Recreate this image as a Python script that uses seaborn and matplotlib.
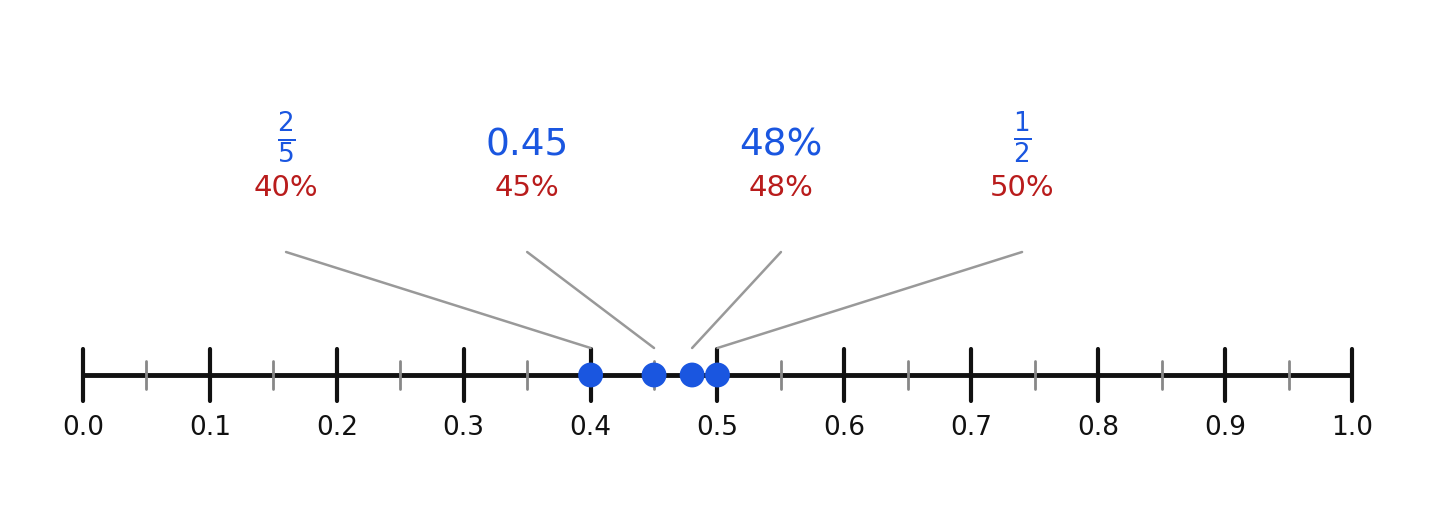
import matplotlib
matplotlib.use("Agg")
import matplotlib.pyplot as plt
import seaborn as sns
import pandas as pd
import numpy as np

sns.set_style("white")
plt.rcParams['font.family'] = ['DejaVu Sans']

values = [0.40, 0.45, 0.48, 0.50]
top_labels = [r"$\frac{2}{5}$", "0.45", "48%", r"$\frac{1}{2}$"]
top_sizes = [27, 27, 27, 27]
pct_labels = ["40%", "45%", "48%", "50%"]
label_x = [0.16, 0.35, 0.55, 0.74]
major_ticks = [round(i * 0.1, 1) for i in range(11)]
minor_ticks = [round(0.05 + i * 0.1, 2) for i in range(10)]

BLUE = "#1a56e0"
RED = "#b91c1c"

W, H = 1434, 532
fig = plt.figure(figsize=(W / 100, H / 100), dpi=100)
ax = fig.add_axes([0, 0, 1, 1])
ax.set_xlim(-83 / 1269, (W - 83) / 1269)
ax.set_ylim(H, 0)
ax.axis("off")

ax.plot([0, 1], [375, 375], color="#111111", lw=3.5, zorder=1, solid_capstyle="butt")
for t in major_ticks:
    ax.plot([t, t], [349, 401], color="#111111", lw=3, zorder=1)
    ax.text(t, 428, f"{t:.1f}", ha="center", va="center", fontsize=19, color="#111111")
for t in minor_ticks:
    ax.plot([t, t], [361, 389], color="#888888", lw=2, zorder=1)

df = pd.DataFrame({"x": values, "y": [375] * len(values)})
sns.scatterplot(data=df, x="x", y="y", ax=ax, s=320, color=BLUE, edgecolor="none", zorder=3, legend=False)

ends = [0.40, 0.45, 0.48, 0.50]
for lx, ex, tl, ts, pl in zip(label_x, ends, top_labels, top_sizes, pct_labels):
    ax.text(lx, 146 if not tl.startswith("$") else 138, tl, ha="center", va="center", fontsize=ts, color=BLUE)
    ax.text(lx, 188, pl, ha="center", va="center", fontsize=21, color=RED)
    ax.plot([lx, ex], [252, 348], color="#999999", lw=1.8, zorder=2)

ax.set_xlabel("")
ax.set_ylabel("")
fig.savefig("out.png", dpi=100)
